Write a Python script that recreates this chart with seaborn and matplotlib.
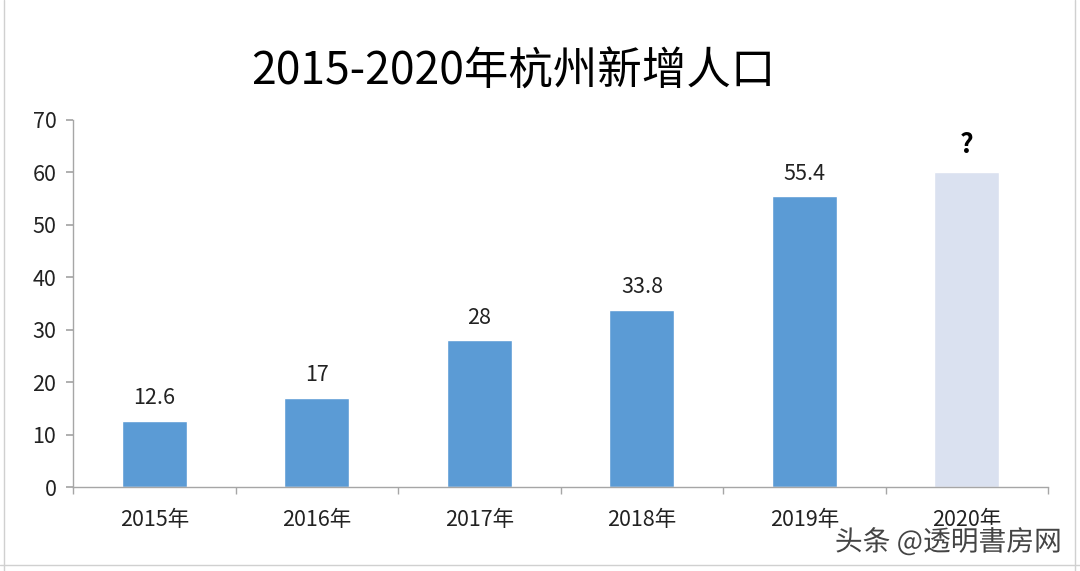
import matplotlib
matplotlib.use("Agg")
import matplotlib.pyplot as plt
import seaborn as sns
import pandas as pd
import numpy as np
import matplotlib.patheffects as pe

years = ["2015年", "2016年", "2017年", "2018年", "2019年", "2020年"]
values = [12.6, 17, 28, 33.8, 55.4, 60]
labels = ["12.6", "17", "28", "33.8", "55.4", "?"]
kinds = ["actual", "actual", "actual", "actual", "actual", "estimate"]
yticks = [0, 10, 20, 30, 40, 50, 60, 70]

sns.set_theme(style="white")
plt.rcParams['font.family'] = ['Noto Sans CJK SC', 'DejaVu Sans']

df = pd.DataFrame({"year": years, "value": values, "kind": kinds})

fig = plt.figure(figsize=(10.8, 5.71), dpi=100)
ax = fig.add_axes([0.0676, 0.147, 0.903, 0.643])
sns.barplot(data=df, x="year", y="value", hue="kind",
            palette={"actual": "#5B9BD5", "estimate": "#DAE1F0"},
            dodge=False, width=0.4, legend=False, ax=ax, saturation=1)

ax.set_xlim(-0.5, len(years) - 0.5)
ax.set_ylim(0, 70)
ax.set_yticks(yticks)
ax.set_xlabel("")
ax.set_ylabel("")
for s in ["top", "right"]:
    ax.spines[s].set_visible(False)
for s in ["left", "bottom"]:
    ax.spines[s].set_color("#A6A6A6")
    ax.spines[s].set_linewidth(1)
ax.tick_params(axis="y", which="major", length=5, color="#A6A6A6", direction="out",
               labelsize=15.5, pad=7, left=True)
ax.tick_params(axis="x", which="major", length=0, labelsize=15.5, pad=16)
ax.set_xticks(np.arange(-0.5, len(years)), minor=True)
ax.tick_params(axis="x", which="minor", length=5, color="#A6A6A6", direction="out", bottom=True)
for t in ax.get_yticklabels() + ax.get_xticklabels():
    t.set_color("#222222")

for i, (v, lab) in enumerate(zip(values, labels)):
    if lab == "?":
        ax.text(i, v + 2.6, lab, ha="center", va="bottom", fontsize=19, fontweight="bold", color="black")
    else:
        ax.text(i, v + 2.2, lab, ha="center", va="bottom", fontsize=15.5, color="#222222")

fig.text(0.475, 0.875, "2015-2020年杭州新增人口", ha="center", va="center", fontsize=32, color="black")

fig.text(0.983, 0.05, "头条 @透明書房网", ha="right", va="center", fontsize=20, color="#444444",
         path_effects=[pe.withStroke(linewidth=3, foreground="white")])

# faint sheet border lines
fig.add_artist(plt.Line2D([0.004, 0.004], [0.0, 1.0], color="#D0D0D0", lw=1, transform=fig.transFigure))
fig.add_artist(plt.Line2D([0.995, 0.995], [0.0, 1.0], color="#D0D0D0", lw=1, transform=fig.transFigure))
fig.add_artist(plt.Line2D([0.0, 1.0], [0.01, 0.01], color="#D0D0D0", lw=1, transform=fig.transFigure))

fig.savefig("out.png", dpi=100)
